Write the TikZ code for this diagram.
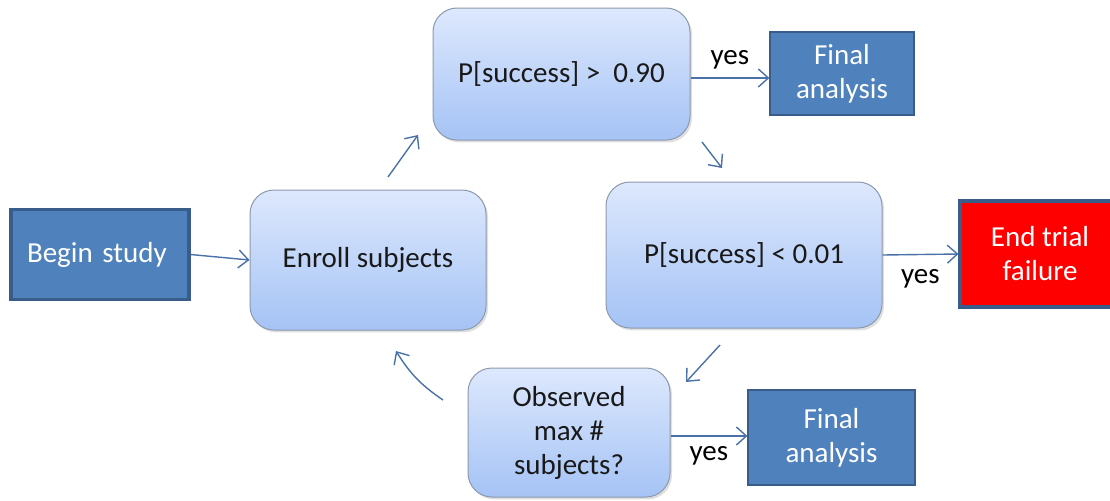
\documentclass[tikz,border=0pt]{standalone}
\usepackage{fontspec}
\setmainfont{Carlito}
\usetikzlibrary{arrows.meta,shadows}
\definecolor{boxblue}{HTML}{4F81BD}
\definecolor{boxedge}{HTML}{385D8A}
\definecolor{arrowc}{HTML}{4A72A8}
\definecolor{gtop}{HTML}{DDE8FD}
\definecolor{gbot}{HTML}{A5C3F5}
\definecolor{gedge}{HTML}{8C9AAE}
\tikzset{
  every node/.style={font=\fontsize{14.5}{17}\selectfont, align=center},
  solidbox/.style={rectangle, draw=boxedge, fill=boxblue, text=white, line width=0.6pt},
  thickbox/.style={solidbox, line width=1.6pt},
  decbox/.style={rectangle, rounded corners=12pt, draw=gedge, line width=0.5pt,
    top color=gtop, bottom color=gbot, text=black!90,
    drop shadow={shadow xshift=1pt, shadow yshift=-1.2pt, opacity=0.25}},
  conn/.style={draw=arrowc, line width=0.7pt, -{Straight Barb[length=5pt,width=9pt,line width=0.7pt]}},
  lab/.style={text=black, inner sep=1pt}
}
\begin{document}
\begin{tikzpicture}[x=0.5pt,y=-0.5pt]
\useasboundingbox (0,0) rectangle (1110,500);
\clip (0,0) rectangle (1110,500);
% nodes
\node[thickbox, minimum width=89pt, minimum height=45pt, inner xsep=8pt, text width=73pt, align=left] (begin) at (100,254.5) {Begin study};
\node[decbox, minimum width=118pt, minimum height=70pt] (enroll) at (368,260) {Enroll subjects};
\node[decbox, minimum width=128.5pt, minimum height=66pt] (top) at (561.5,74) {P[success] > \ 0.90};
\node[solidbox, minimum width=72pt, minimum height=41.5pt] (ftop) at (842,73.5) {Final\\analysis};
\node[decbox, minimum width=138pt, minimum height=73pt] (low) at (744,255) {P[success] < 0.01};
\node[thickbox, fill=red, minimum width=80pt, minimum height=53pt] (endt) at (1040,254) {End trial\\failure};
\node[decbox, minimum width=101pt, minimum height=64.5pt] (obs) at (569,432.5) {Observed\\max \#\\subjects?};
\node[solidbox, minimum width=83.5pt, minimum height=47.5pt] (fbot) at (831.5,437.5) {Final\\analysis};
% free ends of cycle arrows
\coordinate (c1) at (388,177);
\coordinate (c2) at (418,135);
\coordinate (c3) at (702,142);
\coordinate (c4) at (722,168);
\coordinate (c5) at (720,345);
\coordinate (c6) at (686,382);
\coordinate (c7) at (443,400);
\coordinate (c8) at (396,351);
% connectors
\draw[conn] (begin.east) -- (enroll.west);
\draw[conn] (top.east |- 0,78) -- (ftop.west |- 0,78) node[lab, midway, above, yshift=3pt] {yes};
\draw[conn] (low.east) -- (endt.west) node[lab, midway, below, yshift=-6pt] {yes};
\draw[conn] (obs.east |- 0,436) -- (fbot.west |- 0,436) node[lab, midway, below, yshift=-4pt] {yes};
\draw[conn] (c1) -- (c2);
\draw[conn] (c3) -- (c4);
\draw[conn] (c5) -- (c6);
\draw[conn] (c7) to[bend left=12] (c8);
\end{tikzpicture}
\end{document}
